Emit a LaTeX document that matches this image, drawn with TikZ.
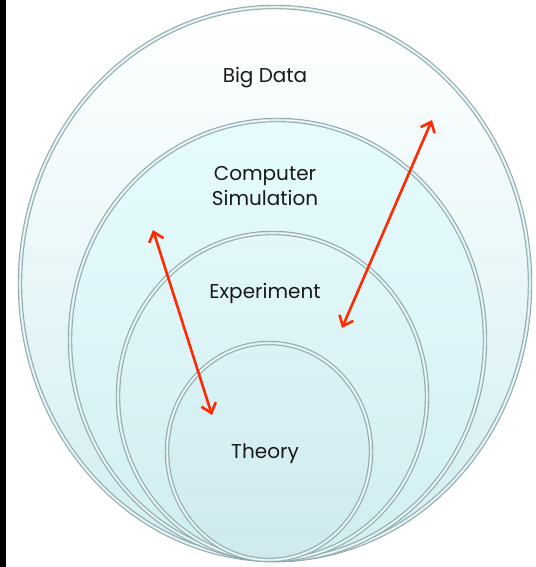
\documentclass[tikz,border=0pt]{standalone}
\usepackage{fontspec}
\setmainfont{Poppins}
\usetikzlibrary{arrows.meta,shadows}
\definecolor{rimdark}{HTML}{8CA6AA}
\definecolor{rimmid}{HTML}{C4DADC}
\definecolor{rimlight}{HTML}{F4FDFE}
\definecolor{linkred}{HTML}{FF2A00}
\definecolor{textgray}{HTML}{1A1A1A}
\definecolor{ringAtop}{HTML}{FFFFFF}
\definecolor{ringAmid}{HTML}{E3FBFD}
\definecolor{ringAbot}{HTML}{D2EEF2}
\definecolor{ringBtop}{HTML}{E6FCFE}
\definecolor{ringBbot}{HTML}{D3EFF2}
\definecolor{ringCtop}{HTML}{E2F8FA}
\definecolor{ringCbot}{HTML}{D1EDF0}
\definecolor{ringDtop}{HTML}{DAF3F6}
\definecolor{ringDbot}{HTML}{CFEAEE}
\tikzset{
  rim/.style={draw=rimdark, line width=4.4pt},
  rimmid/.style={draw=rimmid, line width=2.6pt},
  rimhi/.style={draw=rimlight, line width=1.1pt},
  label/.style={text=textgray, font=\fontsize{20}{25}\selectfont, align=center},
  linkarrow/.style={{Straight Barb[length=9pt,width=15pt]}-{Straight Barb[length=9pt,width=15pt]}, line width=2.6pt, linkred}
}
\newcommand\ring[3]{%
  \draw[rim] #1 ellipse (#2 and #3);
  \draw[rimmid] #1 ellipse (#2 and #3);
  \draw[rimhi] #1 ellipse (#2 and #3);
}
\begin{document}
\begin{tikzpicture}[x=1pt,y=1pt]
%\draw[help lines, color=gray!30, dashed] (0,-567) grid[step=50] (535,0);
\useasboundingbox (0,0) rectangle (535,-567);
\fill[black] (0,0) rectangle (6,-567);
% nested rings, largest first
\shade[top color=ringAtop, middle color=ringAmid, bottom color=ringAbot, drop shadow={shadow xshift=1.5pt,shadow yshift=-1.5pt,opacity=0.3}]
  (275,-283.5) ellipse (255 and 276.5);
\ring{(275,-283.5)}{255}{276.5}
\shade[top color=ringBtop, bottom color=ringBbot] (277.5,-340) ellipse (207.5 and 220);
\ring{(277.5,-340)}{207.5}{220}
\shade[top color=ringCtop, bottom color=ringCbot] (272.5,-396.5) ellipse (154.5 and 163.5);
\ring{(272.5,-396.5)}{154.5}{163.5}
\shade[top color=ringDtop, bottom color=ringDbot] (269,-451.5) ellipse (102 and 108.5);
\ring{(269,-451.5)}{102}{108.5}
% ring titles
\node[label] (bigdata) at (265,-78) {Big Data};
\node[label] (compsim) at (265,-186) {Computer\\Simulation};
\node[label] (experiment) at (265,-293) {Experiment};
\node[label] (theory) at (265,-454) {Theory};
% two-way links
\coordinate (simend) at (153,-230);
\coordinate (theoryend) at (212,-415);
\coordinate (dataend) at (432,-120);
\coordinate (expend) at (342,-328);
\draw[linkarrow] (simend) -- (theoryend);
\draw[linkarrow] (dataend) -- (expend);
\end{tikzpicture}
\end{document}
